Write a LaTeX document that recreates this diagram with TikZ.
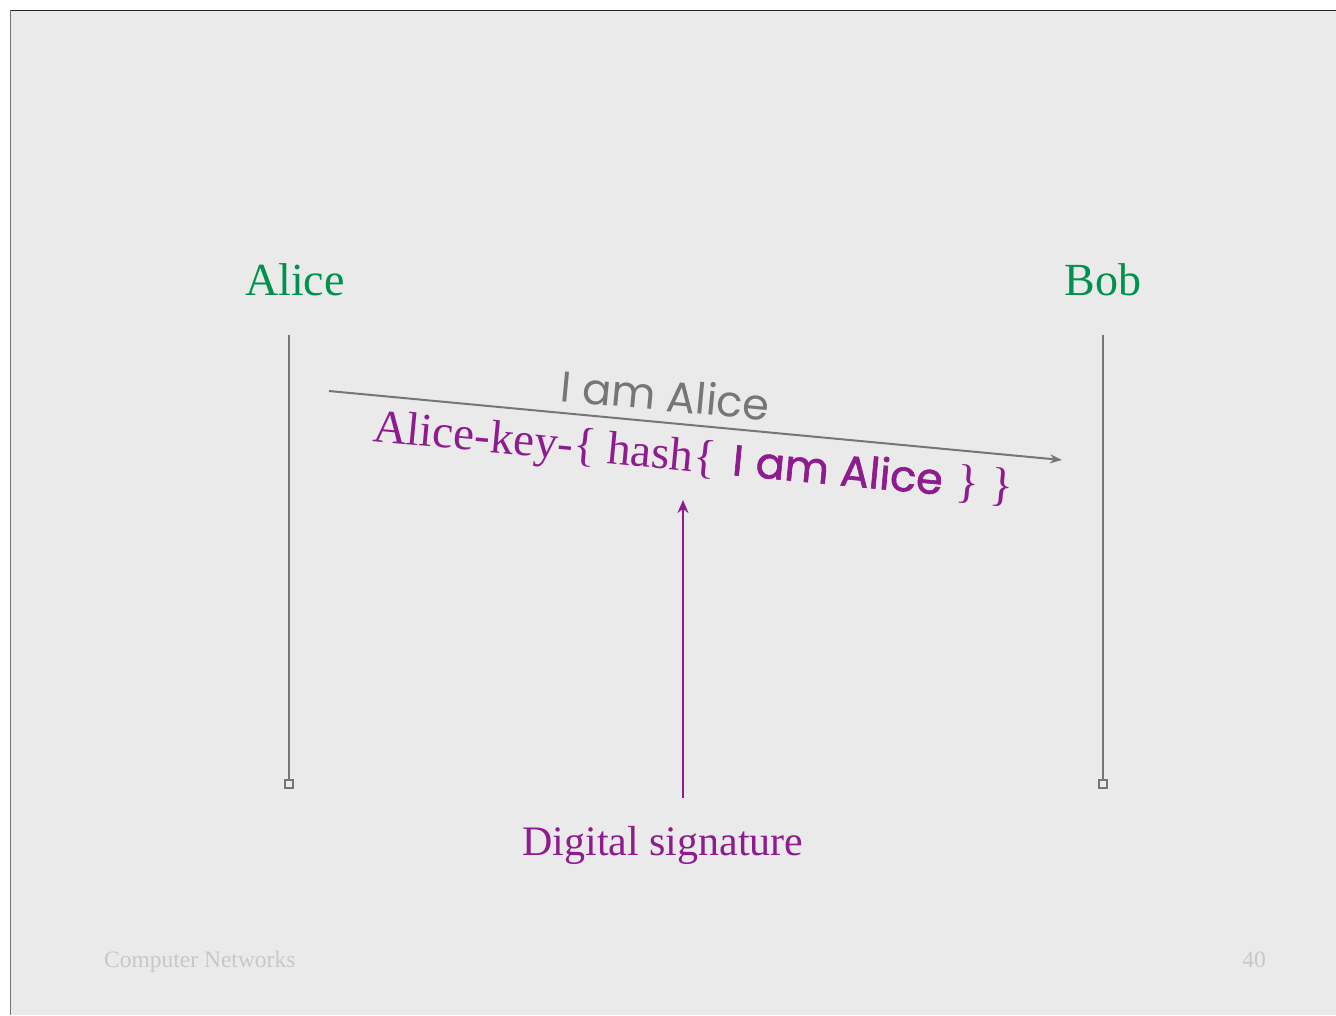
\documentclass[tikz,border=0pt]{standalone}
\usepackage{fontspec}
\setmainfont{Liberation Serif}
\newfontfamily\comicfont{Poppins}
\newfontfamily\comicheavy[FakeBold=1.5]{Poppins}
\usetikzlibrary{arrows.meta}
\definecolor{bgfill}{RGB}{234,234,234}
\definecolor{sigpurple}{RGB}{142,28,142}
\definecolor{namegreen}{RGB}{0,146,76}
\definecolor{msggray}{RGB}{118,118,118}
\definecolor{footgray}{RGB}{200,200,200}
\tikzset{
  partyname/.style={anchor=base, text=namegreen, font=\fontsize{46}{46}\selectfont, inner sep=0},
  lifeline/.style={draw=msggray, line width=2pt},
  endsq/.style={draw=msggray, line width=1.8pt, fill=bgfill, minimum size=8pt, inner sep=0, rectangle},
  msgarrow/.style={draw=msggray, line width=2pt, -{Stealth[length=12pt,width=9pt]}},
  sigarrow/.style={draw=sigpurple, line width=2.5pt, -{Stealth[length=13pt,width=11pt]}},
  foot/.style={text=footgray, font=\fontsize{23.5}{24}\selectfont, inner sep=0}
}
\begin{document}
\begin{tikzpicture}[x=1pt,y=-1pt]
\useasboundingbox (0,0) rectangle (1336,1015);
\fill[white] (0,0) rectangle (1336,1015);
\fill[bgfill] (11,11) rectangle (1336,1015);
\draw[line width=1.6pt, black!85] (10,10.6) -- (1336,10.6);
\draw[line width=1.6pt, black!55] (10.6,10) -- (10.6,1015);

\node[partyname] (alice) at (295,295) {Alice};
\node[partyname] (bob) at (1103,295) {Bob};

\coordinate (atop) at (289,335);
\node[endsq] (asq) at (289,784) {};
\draw[lifeline] (atop) -- (asq.north);
\coordinate (btop) at (1103,335);
\node[endsq] (bsq) at (1103,784) {};
\draw[lifeline] (btop) -- (bsq.north);

\coordinate (mstart) at (329,391);
\coordinate (mend) at (1062,460);
\draw[msgarrow] (mstart) -- (mend);

\node[anchor=base, rotate=-5.4, text=msggray, inner sep=0,
  font=\comicfont\fontsize{43}{43}\selectfont] (plain) at (664,411) {I am Alice};

\node[anchor=base west, rotate=-5.4, text=sigpurple, inner sep=0,
  font=\fontsize{47}{47}\selectfont] (signed) at (372,441)
  {Alice-key-\{ hash\{\hspace{0.36em}{\comicheavy\fontsize{43}{43}\selectfont I\hspace{0.03em} am Alice}\hspace{0.05em} \} \}};

\node[anchor=base, text=sigpurple, inner sep=0, font=\fontsize{42}{42}\selectfont] (digsig) at (663,855) {Digital signature};
\coordinate (sigtail) at (683,798);
\coordinate (sighead) at (683,500);
\draw[sigarrow] (sigtail) -- (sighead);

\node[foot, anchor=base west] (course) at (104,967) {Computer Networks};
\node[foot, anchor=base east] (page) at (1266,967) {40};
\end{tikzpicture}
\end{document}
